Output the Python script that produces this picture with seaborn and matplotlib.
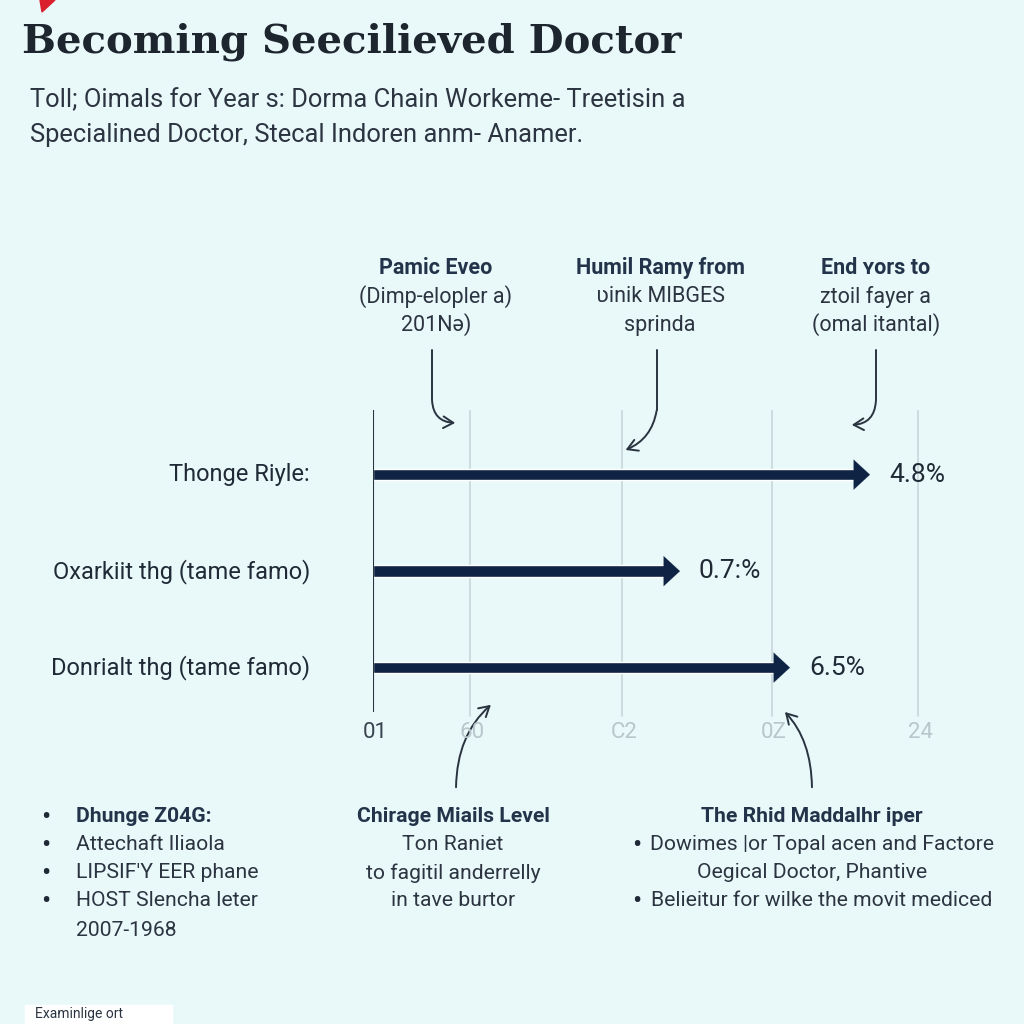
import matplotlib.pyplot as plt
import seaborn as sns
import pandas as pd
from matplotlib.patches import Polygon, Rectangle

# --- data ---
row_labels = ["Thonge Riyle:", "Oxarkiit thg (tame famo)", "Donrialt thg (tame famo)"]
arrow_end = [4.97, 3.07, 4.17]
value_labels = ["4.8%", "0.7:%", "6.5%"]

tick_pos = [0, 0.97, 2.49, 3.99, 5.45]
tick_labels = ["01", "60", "C2", "0Z", "24"]

title = "Becoming Seecilieved Doctor"
subtitle = ["Toll; Oimals for Year s: Dorma Chain Workeme- Treetisin a",
            "Specialined Doctor, Stecal Indoren anm- Anamer."]

top_notes = [
    ("Pamic Eveo", ["(Dimp-elopler a)", "201N\u0259)"]),
    ("Humil Ramy from", ["\u028binik MIBGES", "sprinda"]),
    ("End \u028fors to", ["ztoil fayer a", "(omal itantal)"]),
]
left_list = ["Attechaft Iliaola", "LIPSIF'Y EER phane", "HOST Slencha leter"]
mid_lines = ["Ton Raniet", "to fagitil anderrelly", "in tave burtor"]

BG = "#e9f8f9"
NAVY = "#0f2444"
TXT = "#1f2a36"
GRID = "#c9d6da"

sns.set_theme(style="white")
plt.rcParams['font.family'] = ['Roboto', 'DejaVu Sans']

fig = plt.figure(figsize=(10.24, 10.24), dpi=100)
fig.patch.set_facecolor(BG)

W = 1024.0
def fx(px): return px / W
def fy(py): return 1 - py / W

ax = fig.add_axes([fx(373), fy(712), fx(933) - fx(373), (712 - 410) / W])
ax.set_facecolor(BG)

df = pd.DataFrame({"label": row_labels, "end": arrow_end})
head_len = 0.11
df["shaft"] = df["end"] - head_len
sns.barplot(data=df, x="shaft", y="label", orient="h", color=NAVY,
            width=0.12, ax=ax, saturation=1)
for i, r in df.iterrows():
    ax.annotate("", xy=(r["end"], i), xytext=(r["shaft"] - 0.02, i),
                arrowprops=dict(arrowstyle="-|>,head_length=0.65,head_width=0.6",
                                color=NAVY, lw=0.1, mutation_scale=18,
                                shrinkA=0, shrinkB=0))
    ax.text(r["end"] + 0.19, i, value_labels[i], ha="left", va="center",
            fontsize=19, color=TXT)

ax.set_xlim(0, 5.6)
ax.set_ylim(2.46, -0.67)
for t in tick_pos[1:]:
    ax.axvline(t, color=GRID, lw=1.2, zorder=0)
ax.axvline(0, color="#2a3440", lw=1.5, zorder=3)
for s in ax.spines.values():
    s.set_visible(False)
ax.set_xticks([])
ax.set_yticks([])
ax.set_xlabel("")
ax.set_ylabel("")

for i, lab in enumerate(row_labels):
    ax.text(-0.63, i, lab, ha="right", va="center", fontsize=17, color=TXT)

for k, (t, lab) in enumerate(zip(tick_pos, tick_labels)):
    fig.text(fx(375 + t * 100), fy(732), lab, ha="center", va="center",
             fontsize=16, color="#3a4450" if k == 0 else "#b9c6cb")
for t in tick_pos[1:]:
    fig.add_artist(plt.Line2D([fx(373 + t * 100)] * 2, [fy(712), fy(716)],
                              color=GRID, lw=1.2))

# title block
fig.text(fx(22), fy(42), title, fontsize=29, fontweight="bold",
         family=["DejaVu Serif"], color="#1d252e", va="center", ha="left")
for k, line in enumerate(subtitle):
    fig.text(fx(30), fy(100 + 35 * k), line, fontsize=18.4, color="#2b3440",
             va="center", ha="left")
fig.add_artist(Polygon([[fx(40), fy(0)], [fx(55), fy(0)], [fx(42), fy(12)]],
                       closed=True, color="#d9202c", transform=fig.transFigure))

# top annotations
FS = 15.5
centers = [436, 660, 876]
for c, (head, lines) in zip(centers, top_notes):
    fig.text(fx(c), fy(268), head, ha="center", va="center", fontsize=FS,
             fontweight="bold", color="#23344a")
    for k, ln in enumerate(lines):
        fig.text(fx(c), fy(297 + 28 * k), ln, ha="center", va="center",
                 fontsize=FS, color="#2b3440")

arr_kw = dict(arrowstyle="->,head_length=0.6,head_width=0.35", color="#2a3440",
              lw=1.4, mutation_scale=12)
fc = dict(xycoords="figure fraction", textcoords="figure fraction")
fig.add_artist(plt.Line2D([fx(432)] * 2, [fy(350), fy(400)], color="#2a3440", lw=1.4))
ax.annotate("", xy=(fx(458), fy(423)), xytext=(fx(432), fy(398)), **fc,
            arrowprops=dict(connectionstyle="angle3,angleA=-90,angleB=0", **arr_kw))
fig.add_artist(plt.Line2D([fx(657)] * 2, [fy(350), fy(410)], color="#2a3440", lw=1.4))
ax.annotate("", xy=(fx(623), fy(451)), xytext=(fx(657), fy(408)), **fc,
            arrowprops=dict(connectionstyle="arc3,rad=-0.3", **arr_kw))
fig.add_artist(plt.Line2D([fx(876)] * 2, [fy(350), fy(400)], color="#2a3440", lw=1.4))
ax.annotate("", xy=(fx(849), fy(425)), xytext=(fx(876), fy(398)), **fc,
            arrowprops=dict(connectionstyle="angle3,angleA=-90,angleB=0", **arr_kw))

# bottom arrows
ax.annotate("", xy=(fx(493), fy(703)), xytext=(fx(456), fy(790)), **fc,
            arrowprops=dict(connectionstyle="angle3,angleA=90,angleB=40", **arr_kw))
ax.annotate("", xy=(fx(783), fy(710)), xytext=(fx(812), fy(790)), **fc,
            arrowprops=dict(connectionstyle="angle3,angleA=90,angleB=135", **arr_kw))

# bottom text blocks
BS = 15.2
fig.text(fx(41), fy(817), "\u2022", ha="left", va="center", fontsize=20, color=TXT)
fig.text(fx(76), fy(817), "Dhunge Z04G:", ha="left", va="center", fontsize=BS,
         fontweight="bold", color="#23344a")
for k, ln in enumerate(left_list):
    fig.text(fx(41), fy(845 + 28 * k), "\u2022", ha="left", va="center", fontsize=20, color=TXT)
    fig.text(fx(76), fy(845 + 28 * k), ln, ha="left", va="center", fontsize=BS, color="#2b3440")
fig.text(fx(76), fy(930), "2007-1968", ha="left", va="center", fontsize=BS, color="#2b3440")

fig.text(fx(453), fy(817), "Chirage Miails Level", ha="center", va="center",
         fontsize=BS, fontweight="bold", color="#23344a")
for k, ln in enumerate(mid_lines):
    fig.text(fx(453), fy(845 + 28 * k), ln, ha="center", va="center", fontsize=BS, color="#2b3440")

fig.text(fx(812), fy(817), "The Rhid Maddalhr iper", ha="center", va="center",
         fontsize=BS, fontweight="bold", color="#23344a")
fig.text(fx(637), fy(845), "\u2022", ha="center", va="center", fontsize=20, color=TXT)
fig.text(fx(822), fy(845), "Dowimes |or Topal acen and Factore", ha="center",
         va="center", fontsize=BS, color="#2b3440")
fig.text(fx(812), fy(873), "Oegical Doctor, Phantive", ha="center", va="center",
         fontsize=BS, color="#2b3440")
fig.text(fx(637), fy(901), "\u2022", ha="center", va="center", fontsize=20, color=TXT)
fig.text(fx(822), fy(901), "Belieitur for wilke the movit mediced", ha="center",
         va="center", fontsize=BS, color="#2b3440")

# footer box
fig.add_artist(Rectangle((fx(25), fy(1024)), fx(147), 19 / W, color="white",
                         transform=fig.transFigure))
fig.text(fx(35), fy(1021), "Examinlige ort", ha="left", va="bottom",
         fontsize=10, color="#2b3440")

fig.savefig("out.png", dpi=100, facecolor=BG)
